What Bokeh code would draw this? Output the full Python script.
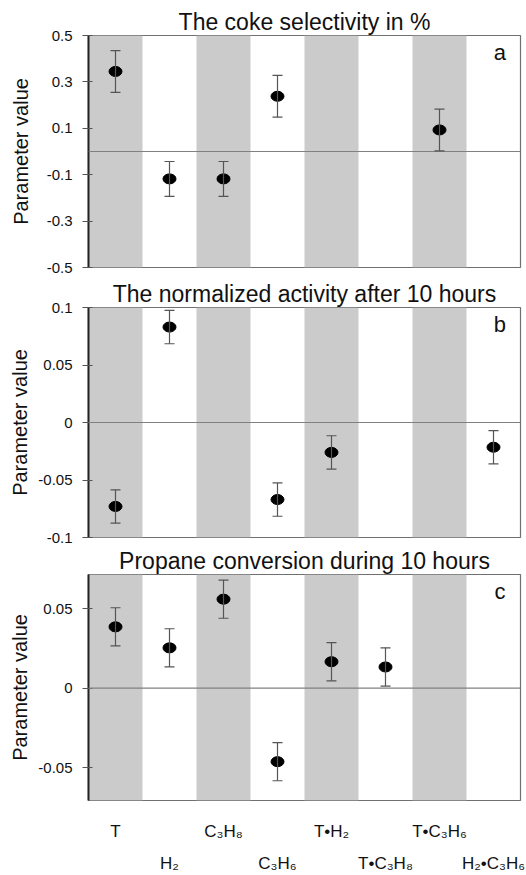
import math
from bokeh.plotting import figure
from bokeh.models import (ColumnDataSource, Range1d, Whisker, TeeHead, Label,
                          LinearAxis, FixedTicker, Span)
from bokeh.layouts import column
from bokeh.embed import file_html
from bokeh.resources import INLINE

# ---------------- data ----------------
categories = ["T", "H₂", "C₃H₈", "C₃H₆", "T•H₂", "T•C₃H₈", "T•C₃H₆", "H₂•C₃H₆"]

coke_values = [0.345, -0.118, -0.118, 0.238, None, None, 0.093, None]
coke_errors = [0.09, 0.075, 0.075, 0.09, None, None, 0.09, None]

activity_values = [-0.073, 0.083, None, -0.067, -0.026, None, None, -0.0215]
activity_errors = [0.0145, 0.0145, None, 0.0145, 0.0145, None, None, 0.0145]

conversion_values = [0.0385, 0.0253, 0.0559, -0.0462, 0.0166, 0.0133, None, None]
conversion_errors = [0.012, 0.012, 0.012, 0.012, 0.012, 0.012, None, None]

panel_titles = ["The coke selectivity in %",
                "The normalized activity after 10 hours",
                "Propane conversion during 10 hours"]
panel_letters = ["a", "b", "c"]
y_ranges = [(-0.5, 0.5), (-0.1, 0.1), (-0.0706, 0.0714)]
y_ticks = [[-0.5, -0.3, -0.1, 0.1, 0.3, 0.5],
           [-0.1, -0.05, 0, 0.05, 0.1],
           [-0.05, 0, 0.05]]

FONT = "Liberation Sans"
BAND = "#cbcbcb"
N = len(categories)


def make_panel(idx, values, errors, height, top, bottom, label_standoff, with_labels=False):
    y0, y1 = y_ranges[idx]
    p = figure(width=526, height=height, output_backend="svg", toolbar_location=None,
               x_range=Range1d(0, N), y_range=Range1d(y0, y1),
               x_axis_type=None, min_border_left=88, min_border_right=6,
               min_border_top=top, min_border_bottom=bottom)
    p.grid.visible = False
    p.outline_line_color = "#707070"
    p.outline_line_width = 1.2
    p.background_fill_color = "white"
    p.border_fill_color = "white"

    # title
    p.title.text = panel_titles[idx]
    p.title.align = "center"
    p.title.text_font = FONT
    p.title.text_font_size = "23px"
    p.title.text_font_style = "normal"
    p.title.text_color = "#111111"
    p.title.standoff = 1

    # alternating bands
    lefts = [i for i in range(N) if i % 2 == 0]
    p.quad(left=lefts, right=[l + 1 for l in lefts], bottom=y0, top=y1,
           fill_color=BAND, line_color=None)

    # zero line
    p.add_layout(Span(location=0, dimension="width", line_color="#808080", line_width=1.2))

    xs = [i + 0.5 for i, v in enumerate(values) if v is not None]
    ys = [v for v in values if v is not None]
    es = [e for v, e in zip(values, errors) if v is not None]
    src = ColumnDataSource(dict(x=xs, y=ys, lo=[y - e for y, e in zip(ys, es)],
                                hi=[y + e for y, e in zip(ys, es)]))
    w = Whisker(source=src, base="x", upper="hi", lower="lo", dimension="height",
                line_color="#555555", line_width=1.2, level="overlay",
                upper_head=TeeHead(size=10, line_color="#555555", line_width=1.2),
                lower_head=TeeHead(size=10, line_color="#555555", line_width=1.2))
    p.add_layout(w)
    e = p.ellipse(x="x", y="y", width=13, height=10, width_units="screen",
                  height_units="screen", fill_color="black", line_color="black", source=src)
    e.level = "overlay"

    # y axis
    ax = p.yaxis[0]
    ax.ticker = FixedTicker(ticks=y_ticks[idx])
    ax.axis_label = "Parameter value"
    ax.axis_label_text_font = FONT
    ax.axis_label_text_font_size = "20px"
    ax.axis_label_text_font_style = "normal"
    ax.axis_label_text_color = "#111111"
    ax.major_label_text_font = FONT
    ax.major_label_text_font_size = "15px"
    ax.major_label_text_color = "#111111"
    ax.axis_line_color = "#222222"
    ax.axis_line_width = 2
    ax.major_tick_out = 6
    ax.major_tick_in = 4
    ax.major_tick_line_color = "#555555"
    ax.minor_tick_line_color = None
    ax.major_label_standoff = 10
    ax.axis_label_standoff = label_standoff
    ax.major_label_overrides = {t: ("%g" % t) for t in y_ticks[idx]}

    # panel letter
    p.add_layout(Label(x=7.62, y=y1 - 0.075 * (y1 - y0), text=panel_letters[idx],
                       text_font=FONT, text_font_size="22px", text_color="#111111",
                       text_align="center", text_baseline="middle"))

    if with_labels:
        odd = [i + 0.5 for i in range(0, N, 2)]
        even = [i + 0.5 for i in range(1, N, 2)]
        for ticks, standoff in ((odd, 21), (even, 10)):
            xa = LinearAxis(ticker=FixedTicker(ticks=ticks))
            xa.major_label_overrides = {t: categories[int(t - 0.5)] for t in ticks}
            xa.axis_line_color = None
            xa.major_tick_line_color = None
            xa.minor_tick_line_color = None
            xa.major_tick_out = 0
            xa.major_tick_in = 0
            xa.major_label_standoff = standoff
            xa.major_label_text_font = FONT
            xa.major_label_text_font_size = "17px"
            xa.major_label_text_color = "#111111"
            p.add_layout(xa, "below")
    return p


pa = make_panel(0, coke_values, coke_errors, 275, 35, 8, 12)
pb = make_panel(1, activity_values, activity_errors, 270, 32, 8, 4)
pc = make_panel(2, conversion_values, conversion_errors, 330, 29, 69, 4, with_labels=True)

layout = column(pa, pb, pc, spacing=0)
open("out.html", "w").write(file_html(layout, INLINE))
